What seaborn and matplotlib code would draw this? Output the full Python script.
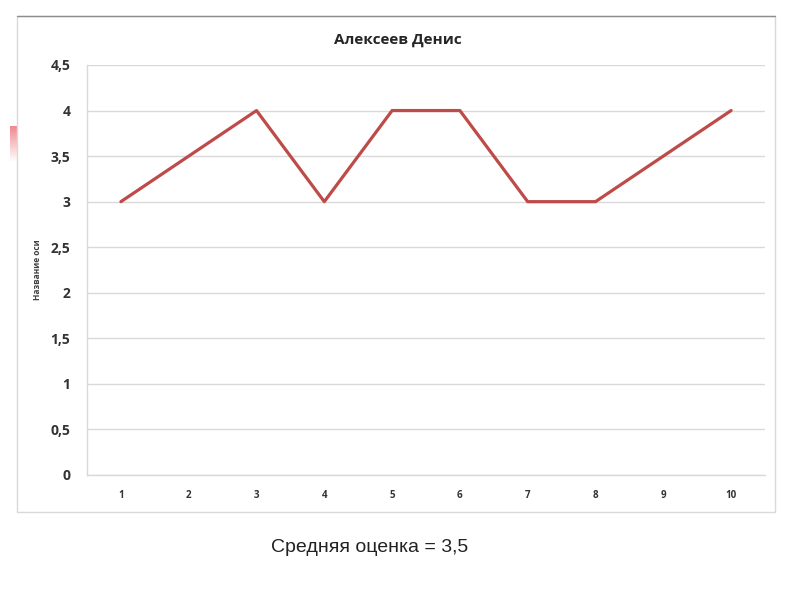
import numpy as np
import pandas as pd
import matplotlib
matplotlib.use("Agg")
import matplotlib.pyplot as plt
import seaborn as sns
from matplotlib.patches import Rectangle

# --- Data ---
lessons = [1, 2, 3, 4, 5, 6, 7, 8, 9, 10]
grades = [3, 3.5, 4, 3, 4, 4, 3, 3, 3.5, 4]
y_ticks = [0, 0.5, 1, 1.5, 2, 2.5, 3, 3.5, 4, 4.5]
y_tick_labels = ["0", "0,5", "1", "1,5", "2", "2,5", "3", "3,5", "4", "4,5"]
title = "Алексеев Денис"
y_label = "Название оси"
footer = "Средняя оценка = 3,5"

df = pd.DataFrame({"lesson": lessons, "grade": grades})

sns.set_style("white")
plt.rcParams['font.family'] = ['Open Sans', 'DejaVu Sans']

fig = plt.figure(figsize=(8, 6), dpi=100)

# outer chart frame
frame = Rectangle((17 / 800, 1 - 512 / 600), 758 / 800, 496 / 600, transform=fig.transFigure,
                  fill=False, edgecolor="#d9d9d9", linewidth=1.0)
fig.patches.append(frame)
fig.add_artist(plt.Line2D([17 / 800, 775 / 800], [1 - 16 / 600, 1 - 16 / 600],
                          transform=fig.transFigure, color="#8c8c8c", linewidth=1.0))

# little pink slide marker on the left
grad_ax = fig.add_axes([10 / 800, 1 - 162 / 600, 7 / 800, 36 / 600])
grad = np.linspace(1, 0, 50).reshape(-1, 1)
grad_ax.imshow(grad, aspect="auto", cmap=matplotlib.colors.LinearSegmentedColormap.from_list(
    "pink", ["#ffffff", "#f08a8f"]), vmin=0, vmax=1)
grad_ax.axis("off")

ax = fig.add_axes([87 / 800, 1 - 475 / 600, 678 / 800, 410 / 600])
sns.lineplot(data=df, x="lesson", y="grade", ax=ax, color="#BE4B48", linewidth=2.3)

ax.set_xlim(0.5, 10.5)
ax.set_ylim(0, 4.5)
ax.set_xticks(lessons)
ax.set_xticklabels([str(v) for v in lessons], fontsize=7, fontweight="bold", color="#333333")
ax.set_yticks(y_ticks)
ax.set_yticklabels(y_tick_labels, fontsize=10, fontweight="bold", color="#333333")
ax.tick_params(axis="x", length=0, pad=11)
ax.tick_params(axis="y", length=0, pad=12)
ax.grid(axis="y", color="#d9d9d9", linewidth=1.0)
ax.set_axisbelow(True)
for s in ["top", "right"]:
    ax.spines[s].set_visible(False)
for s in ["left", "bottom"]:
    ax.spines[s].set_color("#d9d9d9")
    ax.spines[s].set_linewidth(1.0)
ax.set_xlabel("")
ax.set_ylabel("")

fig.text(398 / 800, 1 - 40 / 600, title, ha="center", va="center", fontsize=11, fontweight="bold",
         color="#262626")
fig.text(37 / 800, 1 - 270 / 600, y_label, ha="center", va="center", rotation=90, fontsize=6,
         fontweight="bold", color="#404040")
fig.text(370 / 800, 1 - 548 / 600, footer, ha="center", va="center", fontsize=14,
         family=["Liberation Sans", "DejaVu Sans"], color="#222222")

fig.savefig("out.png", dpi=100)
